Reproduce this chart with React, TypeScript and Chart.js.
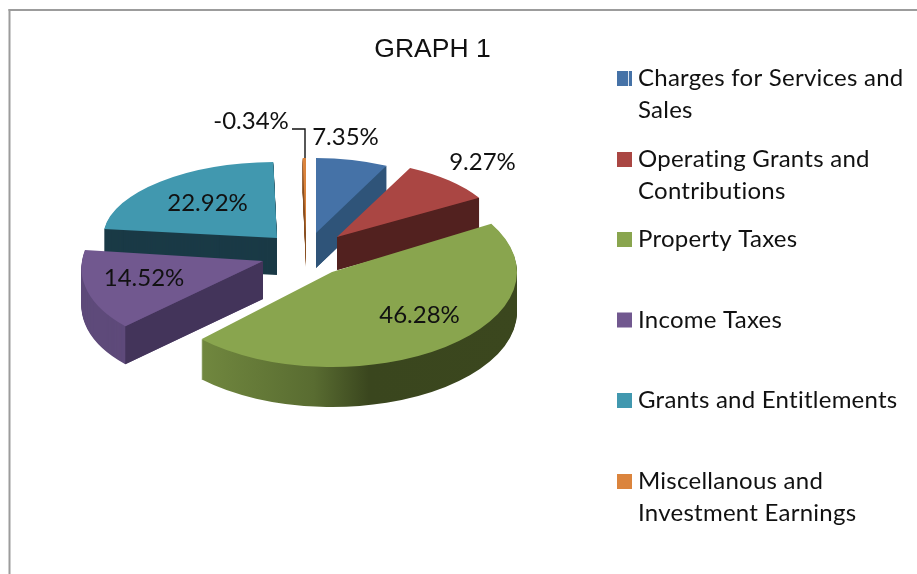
import React, { useEffect, useRef } from "react";
import { Chart, registerables } from "chart.js";

Chart.register(...registerables);

const categories = [
  "Charges for Services and Sales",
  "Operating Grants and Contributions",
  "Property Taxes",
  "Income Taxes",
  "Grants and Entitlements",
  "Miscellanous and Investment Earnings",
];
const shares = [7.35, 9.27, 46.28, 14.52, 22.92, -0.34];
const topColors = ["#4572a7", "#aa4643", "#89a54e", "#71588f", "#4198af", "#db843d"];
const wallColors = ["#2f5479", "#52211f", "#3b471e", "#5e4a7a", "#1a3a46", "#8a5226"];
const faceColors = ["#2f5479", "#52211f", "", "#43345a", "#1a3a46", "#8a5226"];

// Exploded, tilted placement of each slice (3D look): apex, radii, shear, depth
const apexX = [316, 337, 332, 263, 277, 306];
const apexY = [233, 237, 272, 261, 238, 233];
const radiusX = [159, 165, 185, 181, 174, 160];
const radiusY = [75, 77, 95, 92, 76, 75];
const shear = [0, 0, 0, -14, 0, 0];
const depth = [35, 33, 40, 38, 37, 34];
const visibleFace = ["end", "end", "", "start", "end", ""];
const drawOrder = [4, 5, 0, 1, 3, 2];

const labelX = [345.5, 482.5, 419.5, 144, 207.5, 251];
const labelY = [137, 162, 315, 278, 203, 121];
const legendY = [78.5, 159.5, 239.5, 320, 400.5, 481.5];

const LABEL_FONT = "24px Lato";

function wrap(ctx: CanvasRenderingContext2D, text: string, width: number) {
  const lines: string[] = [];
  let line = "";
  for (const w of text.split(" ")) {
    const t = line ? line + " " + w : w;
    if (ctx.measureText(t).width > width && line) {
      lines.push(line);
      line = w;
    } else line = t;
  }
  lines.push(line);
  return lines;
}

const pie3d = {
  id: "pie3d",
  beforeDatasetsDraw(chart: any) {
    const ctx: CanvasRenderingContext2D = chart.ctx;
    const arcs = chart.getDatasetMeta(0).data;
    const flat = (color: any) => ({
      backgroundColor: color,
      borderColor: color,
      borderWidth: 0,
      borderRadius: 0,
      borderAlign: "center",
      borderJoinStyle: "round",
      circular: true,
      offset: 0,
      spacing: 0,
    });
    for (const i of drawOrder) {
      const arc = arcs[i];
      const R = arc.outerRadius;
      const saved = arc.options;
      const place = (dy: number) => {
        ctx.transform(radiusX[i] / R, 0, shear[i] / R, radiusY[i] / R, apexX[i], apexY[i] + dy);
        ctx.translate(-arc.x, -arc.y);
      };
      let wall: any = wallColors[i];
      if (i === 2) {
        const g = ctx.createLinearGradient(arc.x - R, 0, arc.x + R, 0);
        g.addColorStop(0.14, "#71883f");
        g.addColorStop(0.45, "#596c31");
        g.addColorStop(0.6, "#3a461e");
        g.addColorStop(1, "#3b471e");
        wall = g;
      }
      // extruded wall
      arc.options = flat(wall);
      for (let d = depth[i]; d >= 1; d--) {
        ctx.save();
        place(d);
        arc.draw(ctx);
        ctx.restore();
      }
      // visible radial face
      if (visibleFace[i]) {
        const a = visibleFace[i] === "start" ? arc.startAngle : arc.endAngle;
        const px = apexX[i] + Math.cos(a) * radiusX[i] + Math.sin(a) * shear[i];
        const py = apexY[i] + Math.sin(a) * radiusY[i];
        ctx.fillStyle = faceColors[i];
        ctx.beginPath();
        ctx.moveTo(apexX[i], apexY[i]);
        ctx.lineTo(px, py);
        ctx.lineTo(px, py + depth[i]);
        ctx.lineTo(apexX[i], apexY[i] + depth[i]);
        ctx.closePath();
        ctx.fill();
      }
      // top face
      arc.options = flat(topColors[i]);
      ctx.save();
      place(0);
      arc.draw(ctx);
      ctx.restore();
      arc.options = saved;
    }
    return false;
  },
  afterDraw(chart: any) {
    const ctx: CanvasRenderingContext2D = chart.ctx;
    ctx.save();
    // outer frame
    ctx.fillStyle = "#9c9c9c";
    ctx.fillRect(8.5, 9, 2, 565);
    ctx.fillRect(8.5, 9, 908.5, 2);

    // leader line for the small slice
    ctx.strokeStyle = "#111111";
    ctx.lineWidth = 1.4;
    ctx.beginPath();
    ctx.moveTo(292, 129);
    ctx.lineTo(305, 129);
    ctx.lineTo(305, 158);
    ctx.stroke();

    // data labels
    ctx.font = LABEL_FONT;
    ctx.fillStyle = "#111111";
    ctx.textAlign = "center";
    ctx.textBaseline = "middle";
    shares.forEach((v, i) => {
      ctx.fillText(v.toFixed(2) + "%", labelX[i], labelY[i]);
    });

    // legend
    ctx.textAlign = "left";
    (ctx as any).letterSpacing = "0.25px";
    chart.data.labels.forEach((label: string, i: number) => {
      ctx.fillStyle = topColors[i];
      ctx.fillRect(617, legendY[i] - 7.5, 15, 15);
      if (i === 0) {
        ctx.fillStyle = "#dfe7f0";
        ctx.fillRect(628, legendY[i] - 7.5, 1, 15);
      }
      ctx.fillStyle = "#111111";
      wrap(ctx, label, 275).forEach((ln, j) => {
        ctx.fillText(ln, 638, legendY[i] + j * 32);
      });
    });
    ctx.restore();
  },
};

export default function App() {
  const ref = useRef<HTMLCanvasElement>(null);
  useEffect(() => {
    const chart = new Chart(ref.current as HTMLCanvasElement, {
      type: "pie",
      data: {
        labels: categories,
        datasets: [{ data: shares, backgroundColor: topColors, borderWidth: 0 }],
      },
      options: {
        animation: false,
        responsive: false,
        rotation: 0,
        layout: { padding: { right: 52 } },
        plugins: {
          legend: { display: false },
          tooltip: { enabled: false },
          title: {
            display: true,
            text: "GRAPH 1",
            fullSize: false,
            color: "#111111",
            font: { family: "'Liberation Sans'", size: 26.5, weight: "normal" },
            padding: { top: 34, bottom: 0 },
          },
        },
      },
      plugins: [pie3d],
    } as any);
    return () => chart.destroy();
  }, []);
  return (
    <canvas
      ref={ref}
      width={917}
      height={574}
      style={{ position: "fixed", left: 0, top: 0, display: "block", background: "#ffffff" }}
    />
  );
}
